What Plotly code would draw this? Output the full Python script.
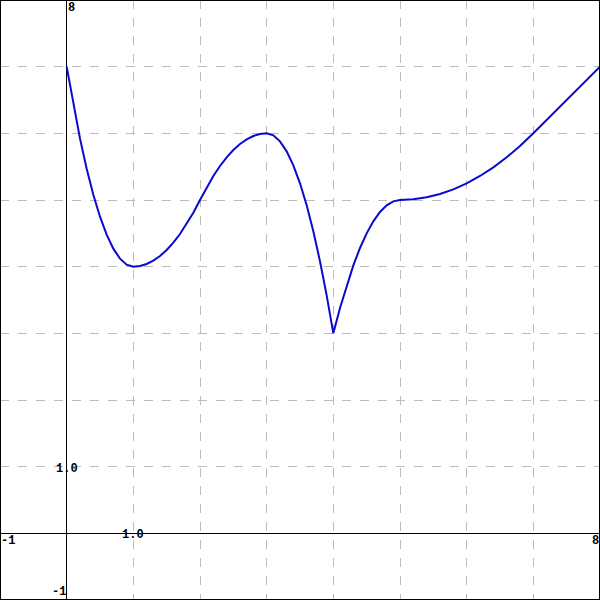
import plotly.graph_objects as go

# Curve values
x_vals = [0.0, 0.1, 0.2, 0.3, 0.4, 0.5, 0.6, 0.7, 0.8, 0.9,
          1.0, 1.1, 1.2, 1.3, 1.4, 1.5, 1.6, 1.7, 1.8, 1.9,
          2.0, 2.1, 2.2, 2.3, 2.4, 2.5, 2.6, 2.7, 2.8, 2.9,
          3.0, 3.1, 3.2, 3.3, 3.4, 3.5, 3.6, 3.7, 3.8, 3.9,
          4.0, 4.1, 4.2, 4.3, 4.4, 4.5, 4.6, 4.7, 4.8, 4.9,
          5.0, 5.2, 5.4, 5.6, 5.8, 6.0, 6.2, 6.4, 6.6, 6.8,
          7.0, 7.2, 7.4, 7.6, 7.8, 8.0]
y_vals = [7.00, 6.43, 5.92, 5.47, 5.08, 4.75, 4.48, 4.27, 4.12, 4.03,
          4.00, 4.01, 4.04, 4.09, 4.16, 4.25, 4.36, 4.49, 4.64, 4.81,
          5.00, 5.19, 5.36, 5.51, 5.64, 5.75, 5.84, 5.91, 5.96, 5.99,
          6.00, 5.97, 5.88, 5.73, 5.52, 5.25, 4.92, 4.53, 4.08, 3.57,
          3.00, 3.38, 3.72, 4.02, 4.28, 4.50, 4.68, 4.82, 4.92, 4.98,
          5.00, 5.01, 5.04, 5.09, 5.16, 5.25, 5.36, 5.49, 5.64, 5.81,
          6.00, 6.20, 6.40, 6.60, 6.80, 7.00]

x_range = [-1, 8]
y_range = [-1, 8]

# Labels: (text, x, y, xanchor, yanchor)
labels = [
    ("8", 0, 8, "left", "top"),
    ("-1", 0, -1, "right", "bottom"),
    ("-1", -1, 0, "left", "top"),
    ("8", 8, 0, "right", "top"),
    ("1.0", 1, 0, "center", "middle"),
    ("1.0", 0, 1, "center", "middle"),
]

fig = go.Figure()
fig.add_trace(go.Scatter(
    x=x_vals, y=y_vals, mode="lines",
    line=dict(color="#0a0acc", width=2),
    hoverinfo="skip", showlegend=False,
))

axis_common = dict(
    dtick=1, tick0=0,
    showgrid=True, gridcolor="#bcbcbc", gridwidth=1, griddash="dash",
    zeroline=True, zerolinecolor="black", zerolinewidth=1,
    showticklabels=False, ticks="", showline=False,
    fixedrange=True,
)
fig.update_xaxes(range=x_range, **axis_common)
fig.update_yaxes(range=y_range, **axis_common)

for text, x, y, xa, ya in labels:
    fig.add_annotation(
        x=x, y=y, xref="x", yref="y", text=text, showarrow=False,
        xanchor=xa, yanchor=ya, borderpad=0,
        yshift=-2 if ya == "middle" else 0,
        font=dict(family="Liberation Mono", size=12, color="black", weight="bold"),
    )

fig.add_shape(type="rect", xref="paper", yref="paper", x0=0, y0=0, x1=1, y1=1,
              line=dict(color="black", width=2), layer="above")

fig.update_layout(
    width=600, height=600,
    margin=dict(l=0, r=0, t=0, b=0),
    plot_bgcolor="white", paper_bgcolor="white",
)

fig.write_html(
    "out.html",
    config={"displayModeBar": False},
    post_script="document.body.style.margin='0';document.body.style.overflow='hidden';",
)
